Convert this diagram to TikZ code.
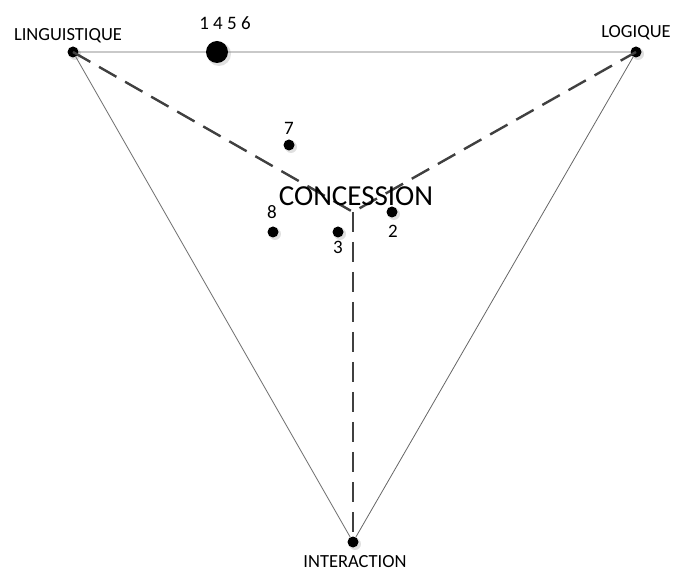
\documentclass[tikz,border=0pt]{standalone}
\usepackage{fontspec}
\setmainfont{Carlito}
\begin{document}
\begin{tikzpicture}[x=1pt,y=-1pt,
  thin line/.style={draw=black!60, line width=0.8pt},
  dash line/.style={draw=black!75, line width=2.4pt, dash pattern=on 20pt off 10pt},
  pt/.style={circle, fill=black, inner sep=0pt, minimum size=11pt},
  vert/.style={circle, fill=black, inner sep=0pt, minimum size=11pt},
  lab/.style={font=\fontsize{18.5}{22}\selectfont, inner sep=0pt},
  num/.style={font=\fontsize{19}{22}\selectfont, inner sep=0pt}]
\useasboundingbox (0,0) rectangle (673,572);
% shadows
\foreach \x/\y in {75/54, 638/54, 355/544, 291/147, 275/234, 340/234, 394/214} \fill[black!12] (\x,\y) circle (6);
\fill[black!12] (219,54) circle (12);
\coordinate (c) at (353,212);
\node[vert] (li) at (73,52) {};
\node[vert] (lo) at (636,52) {};
\node[vert] (in) at (353,542) {};
\draw[thin line] (li) -- (lo) -- (in) -- (li);
\draw[dash line] (li.center) -- (c) -- (lo.center);
\draw[dash line] (c) -- (in.center);
\node[lab] at (68,36) {LINGUISTIQUE};
\node[lab] at (636,33) {LOGIQUE};
\node[lab] at (355,562) {INTERACTION};
\node[circle, fill=black, inner sep=0pt, minimum size=22pt] (p1) at (217,52) {};
\node[num] at (225,23) {1 4 5 6};
\node[pt] (p7) at (289,145) {};
\node[num] at (289,128) {7};
\node[pt] (p8) at (273,232) {};
\node[num] at (272,212) {8};
\node[pt] (p3) at (338,232) {};
\node[num] at (338,247) {3};
\node[pt] (p2) at (392,212) {};
\node[num] at (393,231) {2};
\node[font=\fontsize{29}{33}\selectfont, inner sep=0pt] at (356,196) {CONCESSION};
\end{tikzpicture}
\end{document}
